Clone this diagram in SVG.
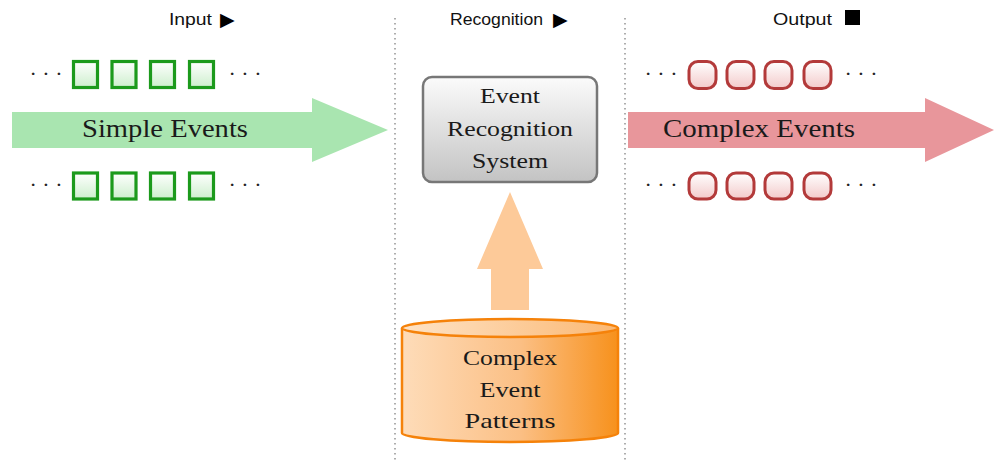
<svg xmlns="http://www.w3.org/2000/svg" width="994" height="461" viewBox="0 0 994 461">
<defs>
<linearGradient id="gGreen" x1="0" y1="0" x2="0" y2="1"><stop offset="0" stop-color="#ffffff"/><stop offset="1" stop-color="#cdefcd"/></linearGradient>
<linearGradient id="gRed" x1="0" y1="0" x2="0" y2="1"><stop offset="0" stop-color="#ffffff"/><stop offset="1" stop-color="#f3caca"/></linearGradient>
<linearGradient id="gGray" x1="0" y1="0" x2="0" y2="1"><stop offset="0" stop-color="#fbfbfb"/><stop offset="1" stop-color="#c3c3c3"/></linearGradient>
<linearGradient id="gOrange" x1="0" y1="0" x2="1" y2="0"><stop offset="0" stop-color="#fedcb9"/><stop offset="0.55" stop-color="#fbbf84"/><stop offset="1" stop-color="#f7911c"/></linearGradient>
<linearGradient id="gOrangeTop" x1="0" y1="0" x2="1" y2="0"><stop offset="0" stop-color="#fee3c6"/><stop offset="1" stop-color="#fbb873"/></linearGradient>
</defs>
<style>
.sep{stroke:#9a9a9a;stroke-width:1.6;stroke-dasharray:1.4 3.6;fill:none}
.hdr{font-family:"Liberation Sans","DejaVu Sans",sans-serif;font-size:16px;fill:#111}
.sym{font-family:"DejaVu Sans",sans-serif;font-size:19px;fill:#000}
.lbl{font-family:"Liberation Serif","DejaVu Serif",serif;fill:#1a1a1a;text-anchor:middle}
.dots{font-family:"Liberation Serif",serif;font-size:22px;fill:#222;text-anchor:middle}
.sq{fill:url(#gGreen);stroke:#1c9a1c;stroke-width:3.2}
.rs{fill:url(#gRed);stroke:#b33a3a;stroke-width:3}
</style>

<g id="separators">
<line class="sep" x1="395" y1="18" x2="395" y2="461"/>
<line class="sep" x1="625" y1="18" x2="625" y2="461"/>
</g>

<g id="headers">
<text class="hdr" x="169" y="25" textLength="43" lengthAdjust="spacingAndGlyphs">Input</text>
<text class="sym" x="220" y="25.5">▶</text>
<text class="hdr" x="450" y="25" textLength="93" lengthAdjust="spacingAndGlyphs">Recognition</text>
<text class="sym" x="553" y="25.5">▶</text>
<text class="hdr" x="773" y="25" textLength="59" lengthAdjust="spacingAndGlyphs">Output</text>
<rect x="845" y="10" width="15" height="15" fill="#000"/>
</g>

<g id="simple-events">
<polygon points="12,112 312,112 312,98 388,130 312,162 312,148 12,148" fill="#a9e5b0"/>
<text class="lbl" x="165" y="137" font-size="25" textLength="166" lengthAdjust="spacingAndGlyphs">Simple Events</text>
</g>

<g id="input-row-top">
<text class="dots" x="46" y="81">· · ·</text>
<rect class="sq" x="73.5" y="61.5" width="24" height="26"/>
<rect class="sq" x="112" y="61.5" width="24" height="26"/>
<rect class="sq" x="150.5" y="61.5" width="24" height="26"/>
<rect class="sq" x="189.5" y="61.5" width="24" height="26"/>
<text class="dots" x="245" y="81">· · ·</text>
</g>

<g id="input-row-bottom">
<text class="dots" x="46" y="192">· · ·</text>
<rect class="sq" x="73.5" y="173" width="24" height="26"/>
<rect class="sq" x="112" y="173" width="24" height="26"/>
<rect class="sq" x="150.5" y="173" width="24" height="26"/>
<rect class="sq" x="189.5" y="173" width="24" height="26"/>
<text class="dots" x="245" y="192">· · ·</text>
</g>

<g id="ers">
<rect x="423" y="77" width="174" height="105" rx="9" fill="url(#gGray)" stroke="#777" stroke-width="2.5"/>
<text class="lbl" x="510" y="103" font-size="22" textLength="60" lengthAdjust="spacingAndGlyphs">Event</text>
<text class="lbl" x="510" y="136" font-size="22" textLength="126" lengthAdjust="spacingAndGlyphs">Recognition</text>
<text class="lbl" x="510" y="168" font-size="22" textLength="76" lengthAdjust="spacingAndGlyphs">System</text>
</g>

<g id="connectors">
<polygon points="491,310 491,269 477,269 510,192 543,269 529,269 529,310" fill="#fdca99"/>
</g>

<g id="patterns">
<path d="M402,328 L402,433 A108,9 0 0 0 618,433 L618,328" fill="url(#gOrange)" stroke="#f5820a" stroke-width="2.5"/>
<ellipse cx="510" cy="328" rx="108" ry="9" fill="url(#gOrangeTop)" stroke="#f5820a" stroke-width="2.5"/>
<text class="lbl" x="510" y="365" font-size="22" textLength="94" lengthAdjust="spacingAndGlyphs">Complex</text>
<text class="lbl" x="510" y="397" font-size="22" textLength="61" lengthAdjust="spacingAndGlyphs">Event</text>
<text class="lbl" x="510" y="428" font-size="22" textLength="91" lengthAdjust="spacingAndGlyphs">Patterns</text>
</g>

<g id="complex-events">
<polygon points="628,112 925,112 925,98 994,130 925,162 925,148 628,148" fill="#e8969b"/>
<text class="lbl" x="759" y="137" font-size="25" textLength="192" lengthAdjust="spacingAndGlyphs">Complex Events</text>
</g>

<g id="output-row-top">
<text class="dots" x="661" y="81">· · ·</text>
<rect class="rs" x="689" y="61.5" width="27" height="27" rx="9"/>
<rect class="rs" x="727" y="61.5" width="27" height="27" rx="9"/>
<rect class="rs" x="765" y="61.5" width="27" height="27" rx="9"/>
<rect class="rs" x="804" y="61.5" width="27" height="27" rx="9"/>
<text class="dots" x="861" y="81">· · ·</text>
</g>

<g id="output-row-bottom">
<text class="dots" x="661" y="192">· · ·</text>
<rect class="rs" x="689" y="173" width="27" height="26" rx="9"/>
<rect class="rs" x="727" y="173" width="27" height="26" rx="9"/>
<rect class="rs" x="765" y="173" width="27" height="26" rx="9"/>
<rect class="rs" x="804" y="173" width="27" height="26" rx="9"/>
<text class="dots" x="861" y="192">· · ·</text>
</g>
</svg>
